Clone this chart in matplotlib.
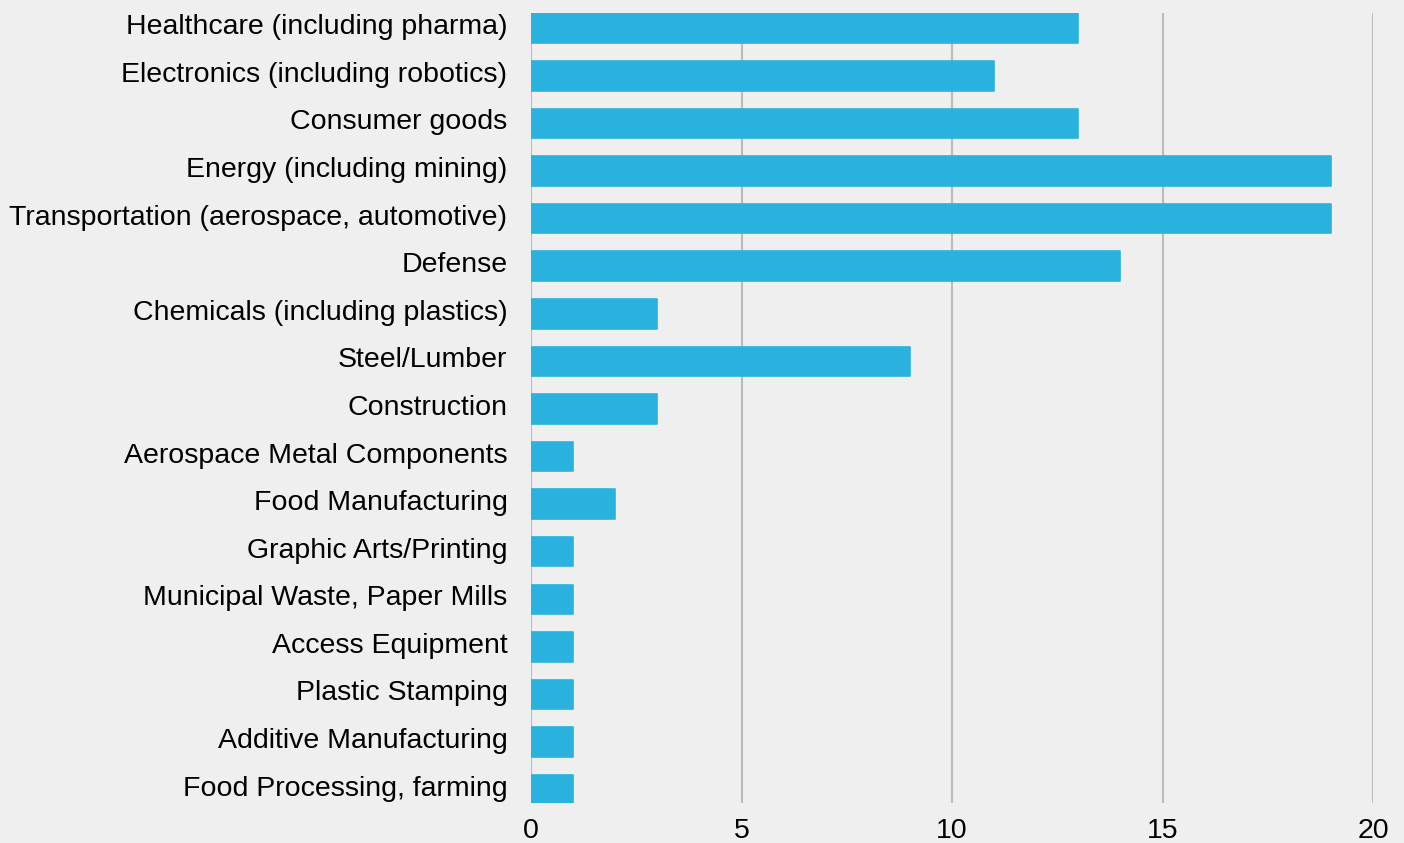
import matplotlib
matplotlib.use("Agg")
import matplotlib.pyplot as plt
import matplotlib.transforms as mtransforms

industries = [
    "Healthcare (including pharma)",
    "Electronics (including robotics)",
    "Consumer goods",
    "Energy (including mining)",
    "Transportation (aerospace, automotive)",
    "Defense",
    "Chemicals (including plastics)",
    "Steel/Lumber",
    "Construction",
    "Aerospace Metal Components",
    "Food Manufacturing",
    "Graphic Arts/Printing",
    "Municipal Waste, Paper Mills",
    "Access Equipment",
    "Plastic Stamping",
    "Additive Manufacturing",
    "Food Processing, farming",
]
counts = [13, 11, 13, 19, 19, 14, 3, 9, 3, 1, 2, 1, 1, 1, 1, 1, 1]
xticks = [0, 5, 10, 15, 20]

bg = "#efefef"
bar_color = "#29b2dd"

plt.rcParams["font.family"] = ["Liberation Sans", "DejaVu Sans"]

fig = plt.figure(figsize=(14.04, 8.43), dpi=100, facecolor=bg)
ax = fig.add_axes([531 / 1404, 1 - 803 / 843, (1373 - 531) / 1404, 790 / 843])
ax.set_facecolor(bg)

pos = list(range(len(industries)))
ax.barh(pos, counts, height=0.62, color=bar_color, edgecolor=bar_color,
        linewidth=1.2, joinstyle="round", zorder=3)

ax.set_xlim(0, 20)
ax.set_ylim(16.28, -0.32)
ax.set_xticks(xticks)
ax.set_yticks(pos)
ax.set_yticklabels(industries)
ax.tick_params(axis="both", length=0, labelsize=20.5, colors="black")
ax.tick_params(axis="y", pad=17)
ax.tick_params(axis="x", pad=11)

# nudge the category labels up a little
shift = mtransforms.ScaledTranslation(0, 4 / 100, fig.dpi_scale_trans)
for lab in ax.get_yticklabels():
    lab.set_transform(lab.get_transform() + shift)

ax.grid(axis="x", color="#bbbbbb", linewidth=1.5, zorder=0)
for s in ax.spines.values():
    s.set_visible(False)

fig.savefig("out.png", dpi=100, facecolor=bg)
